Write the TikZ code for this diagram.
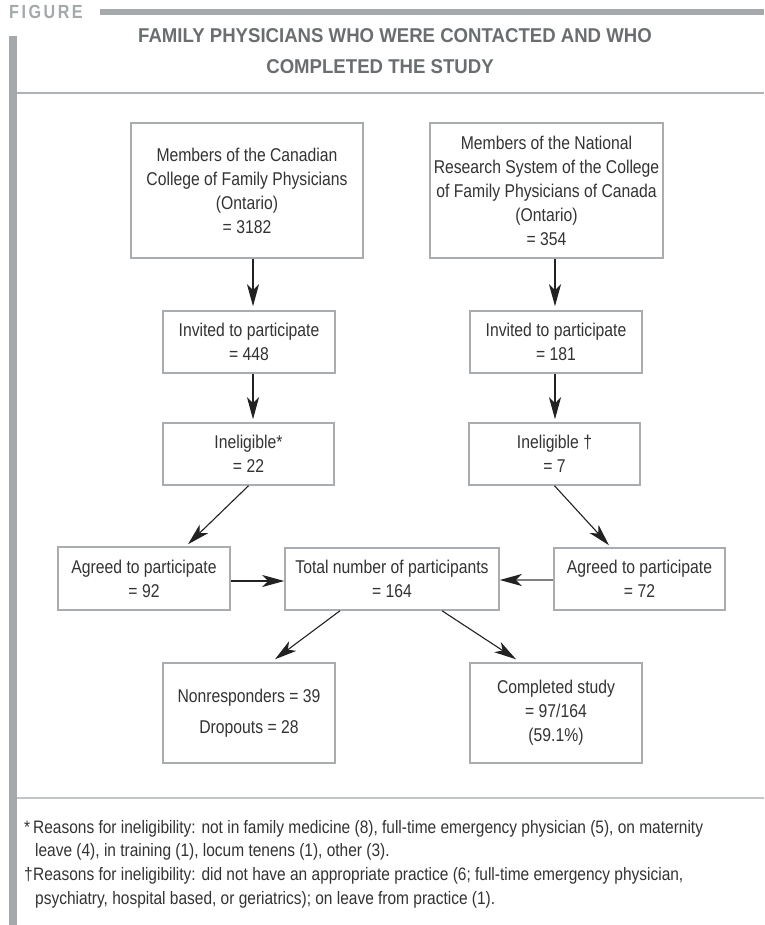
\documentclass[tikz,border=0pt]{standalone}
\usepackage{fontspec}
\setmainfont{Liberation Sans}[FakeStretch=0.85]
\newfontfamily\footfont{Liberation Sans}[FakeStretch=0.86]
\newfontfamily\titlefont{Liberation Sans Bold}[FakeStretch=0.93]
\newfontfamily\figfont{Liberation Sans Bold}[FakeStretch=0.85]
\usetikzlibrary{arrows.meta}
\definecolor{figgray}{HTML}{A5A9AC}
\definecolor{titlegray}{HTML}{6A6E70}
\definecolor{rulegray}{HTML}{AEB2B4}
\definecolor{lightrule}{HTML}{C2C5C7}
\definecolor{boxgray}{HTML}{A9ADB0}
\definecolor{txt}{HTML}{333333}
\definecolor{arrowc}{HTML}{222222}
\begin{document}
\begin{tikzpicture}[x=1pt,y=-1pt,
  box/.style={draw=boxgray, line width=1.5pt, inner sep=0pt, align=center,
    text=txt, font=\fontsize{18.5}{24}\selectfont},
  arr/.style={draw=arrowc, line width=1.1pt,
    -{Stealth[length=22pt,width=12pt,inset=6pt,color=arrowc]}},
  foot/.style={anchor=base west, inner sep=0pt, text=txt,
    font=\footfont\fontsize{18}{24}\selectfont},
  ttl/.style={anchor=base, inner sep=0pt, text=titlegray,
    font=\titlefont\fontsize{20}{24}\selectfont}]
\useasboundingbox (0,0) rectangle (764,925);
\fill[white] (0,0) rectangle (764,925);

% header
\node[anchor=base west, inner sep=0pt, text=figgray,
  font=\figfont\fontsize{19}{20}\selectfont] (fig) at (9,18.5)
  {F\kern2.5pt I\kern2.5pt G\kern2.5pt U\kern2.5pt R\kern2.5pt E};
\fill[figgray] (100,9) rectangle (764,15);
\fill[figgray] (8.5,36) rectangle (16.5,925);
\node[ttl] (t1) at (395,43) {FAMILY PHYSICIANS WHO WERE CONTACTED AND WHO};
\node[ttl] (t2) at (380,74) {COMPLETED THE STUDY};
\fill[rulegray] (16.5,92) rectangle (764,94.5);

% boxes
\node[box, minimum width=232pt, minimum height=135pt] (A) at (247,190.5)
  {Members of the Canadian\\College of Family Physicians\\(Ontario)\\= 3182};
\node[box, minimum width=233pt, minimum height=135pt] (B) at (546.5,190.5)
  {Members of the National\\Research System of the College\\of Family Physicians of Canada\\(Ontario)\\= 354};
\node[box, minimum width=172pt, minimum height=62pt] (C) at (249,342)
  {Invited to participate\\= 448};
\node[box, minimum width=172pt, minimum height=62pt] (D) at (556,342)
  {Invited to participate\\= 181};
\node[box, minimum width=171pt, minimum height=62pt] (E) at (248.5,454)
  {Ineligible*\\= 22};
\node[box, minimum width=171pt, minimum height=62pt] (F) at (554.5,454)
  {Ineligible \textdagger\\= 7};
\node[box, minimum width=172pt, minimum height=63pt] (G) at (144,578.5)
  {Agreed to participate\\= 92};
\node[box, minimum width=214pt, minimum height=62pt] (T) at (392,579)
  {Total number of participants\\= 164};
\node[box, minimum width=171pt, minimum height=62pt] (H) at (639.5,579)
  {Agreed to participate\\= 72};
\node[box, minimum width=172pt, minimum height=100pt] (N) at (249,713)
  {Nonresponders = 39\\[7pt]Dropouts = 28};
\node[box, minimum width=172pt, minimum height=100pt] (K) at (556,713)
  {Completed study\\= 97/164\\(59.1\%)};

% connectors
\draw[arr, shorten >=4pt] ([xshift=6pt]A.south) -- ([xshift=4pt]C.north);
\draw[arr, shorten >=4pt] ([xshift=8.5pt]B.south) -- ([xshift=-1pt]D.north);
\draw[arr, shorten >=3pt] ([xshift=4pt]C.south) -- ([xshift=4.5pt]E.north);
\draw[arr, shorten >=3pt] ([xshift=-1pt]D.south) -- ([xshift=0.5pt]F.north);
\draw[arr] (E.south) -- ([xshift=44pt,yshift=2pt]G.north);
\draw[arr] (F.south) -- ([xshift=-30.5pt,yshift=2pt]H.north);
\draw[arr] ([yshift=-2.5pt]G.east) -- ([yshift=-2pt]T.west);
\draw[arr, draw=black!50, line width=1.8pt] ([yshift=-1pt]H.west) -- ([yshift=-1pt]T.east);
\draw[arr] ([xshift=-52pt]T.south) -- ([xshift=26pt,yshift=3pt]N.north);
\draw[arr] ([xshift=50pt]T.south) -- ([xshift=-40pt,yshift=3pt]K.north);

% footnotes
\fill[lightrule] (16.5,797.3) rectangle (764,798.7);
\node[foot] (f1a) at (24,833) {*};
\node[foot] (f1b) at (33,833) {Reasons for ineligibility: not in family medicine (8), full-time emergency physician (5), on maternity};
\node[foot] (f1c) at (35,856.7) {leave (4), in training (1), locum tenens (1), other (3).};
\node[foot] (f2a) at (24,880.3) {\textdagger};
\node[foot] (f2b) at (33,880.3) {Reasons for ineligibility: did not have an appropriate practice (6; full-time emergency physician,};
\node[foot] (f2c) at (35,904) {psychiatry, hospital based, or geriatrics); on leave from practice (1).};
\end{tikzpicture}
\end{document}
